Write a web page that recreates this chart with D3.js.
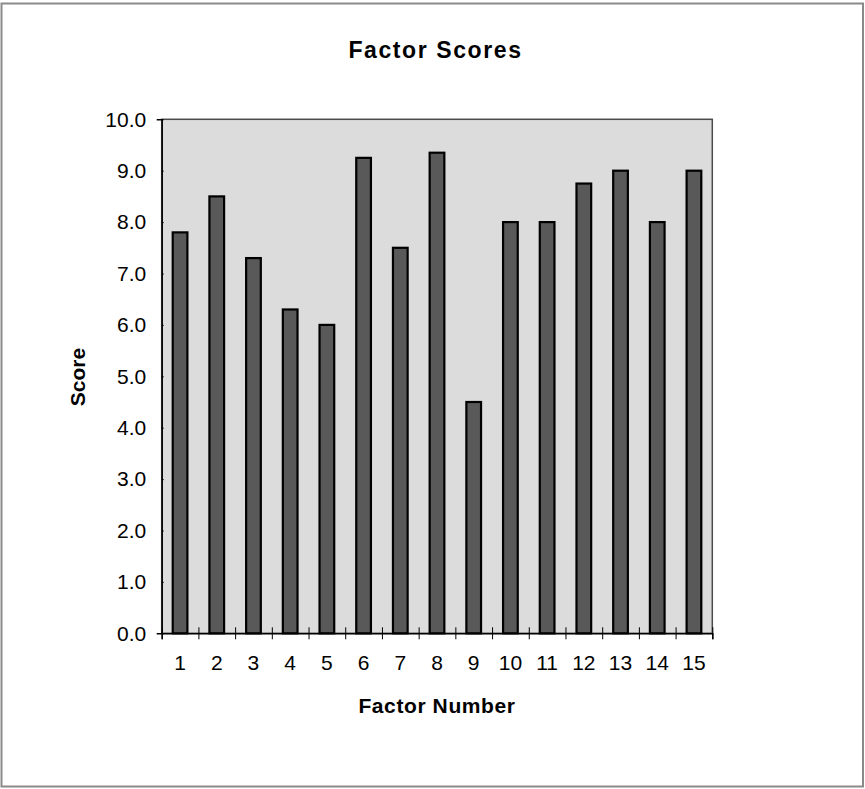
<!DOCTYPE html>
<html>
<head>
<meta charset="utf-8">
<script src="https://cdn.jsdelivr.net/npm/d3@7"></script>
<style>
  html, body { margin: 0; padding: 0; background: #fff; }
  svg { display: block; font-family: "Liberation Sans", Arial, sans-serif; }
</style>
</head>
<body>
<svg id="chart" width="865" height="789"></svg>
<script>
// Factor scores, one bar per factor
const factors = ["1","2","3","4","5","6","7","8","9","10","11","12","13","14","15"];
const scores = [7.8, 8.5, 7.3, 6.3, 6.0, 9.25, 7.5, 9.35, 4.5, 8.0, 8.0, 8.75, 9.0, 8.0, 9.0];
const yTicks = [0, 1, 2, 3, 4, 5, 6, 7, 8, 9, 10];

const svg = d3.select("#chart");
const plot = { left: 161.7, right: 712.3, top: 119.3, bottom: 633.3 };

// outer frame
svg.append("rect")
  .attr("x", 1.5).attr("y", 3.5).attr("width", 861.5).attr("height", 783)
  .attr("fill", "#fff").attr("stroke", "#8a8a8a").attr("stroke-width", 2);

const x = d3.scaleBand().domain(factors)
  .range([plot.left, plot.right]).paddingInner(0.6).paddingOuter(0.3);
const xEdges = d3.scaleLinear().domain([0, factors.length]).range([plot.left, plot.right]);
const y = d3.scaleLinear().domain([0, 10]).range([plot.bottom, plot.top]);

// plot area
svg.append("rect")
  .attr("x", plot.left).attr("y", plot.top)
  .attr("width", plot.right - plot.left).attr("height", plot.bottom - plot.top)
  .attr("fill", "#dcdcdc").attr("stroke", "#4a4a4a").attr("stroke-width", 1.5);

// bars
svg.append("g").selectAll("rect").data(scores).join("rect")
  .attr("x", (d, i) => x(factors[i]))
  .attr("y", d => y(d))
  .attr("width", x.bandwidth())
  .attr("height", d => y(0) - y(d))
  .attr("fill", "#595959")
  .attr("stroke", "#000")
  .attr("stroke-width", 2.2);

// y axis
const yAxis = svg.append("g")
  .attr("transform", `translate(${plot.left},0)`)
  .call(d3.axisLeft(y).tickValues(yTicks).tickFormat(d3.format(".1f")).tickSize(5).tickPadding(10.5));
yAxis.select(".domain").attr("stroke", "#000").attr("stroke-width", 1.5);
yAxis.selectAll(".tick line").attr("x2", 2).attr("stroke", "#000");
yAxis.selectAll(".tick text")
  .attr("font-size", 21).attr("fill", "#000")
  .attr("font-family", "'Liberation Sans', Arial, sans-serif");

// x axis: tick marks at category edges
const xTickAxis = svg.append("g")
  .attr("transform", `translate(0,${plot.bottom})`)
  .call(d3.axisBottom(xEdges).tickValues(d3.range(factors.length + 1)).tickFormat("").tickSize(6));
xTickAxis.select(".domain").attr("stroke", "#000").attr("stroke-width", 1.5);
xTickAxis.selectAll(".tick line").attr("y1", -6).attr("stroke", "#000");

// x axis: category labels
const xLabelAxis = svg.append("g")
  .attr("transform", `translate(0,${plot.bottom})`)
  .call(d3.axisBottom(x).tickSize(0).tickPadding(22));
xLabelAxis.select(".domain").remove();
xLabelAxis.selectAll(".tick text")
  .attr("font-size", 21).attr("fill", "#000")
  .attr("font-family", "'Liberation Sans', Arial, sans-serif");

// titles
svg.append("text")
  .attr("x", 435.5).attr("y", 58.3)
  .attr("text-anchor", "middle")
  .attr("font-size", 23).attr("font-weight", "bold")
  .attr("letter-spacing", 1.6)
  .text("Factor Scores");

svg.append("text")
  .attr("x", 437).attr("y", 713.3)
  .attr("text-anchor", "middle")
  .attr("font-size", 21).attr("font-weight", "bold")
  .attr("letter-spacing", 0.6)
  .text("Factor Number");

svg.append("text")
  .attr("transform", "translate(84.5,377) rotate(-90)")
  .attr("text-anchor", "middle")
  .attr("font-size", 21).attr("font-weight", "bold")
  .text("Score");
</script>
</body>
</html>
